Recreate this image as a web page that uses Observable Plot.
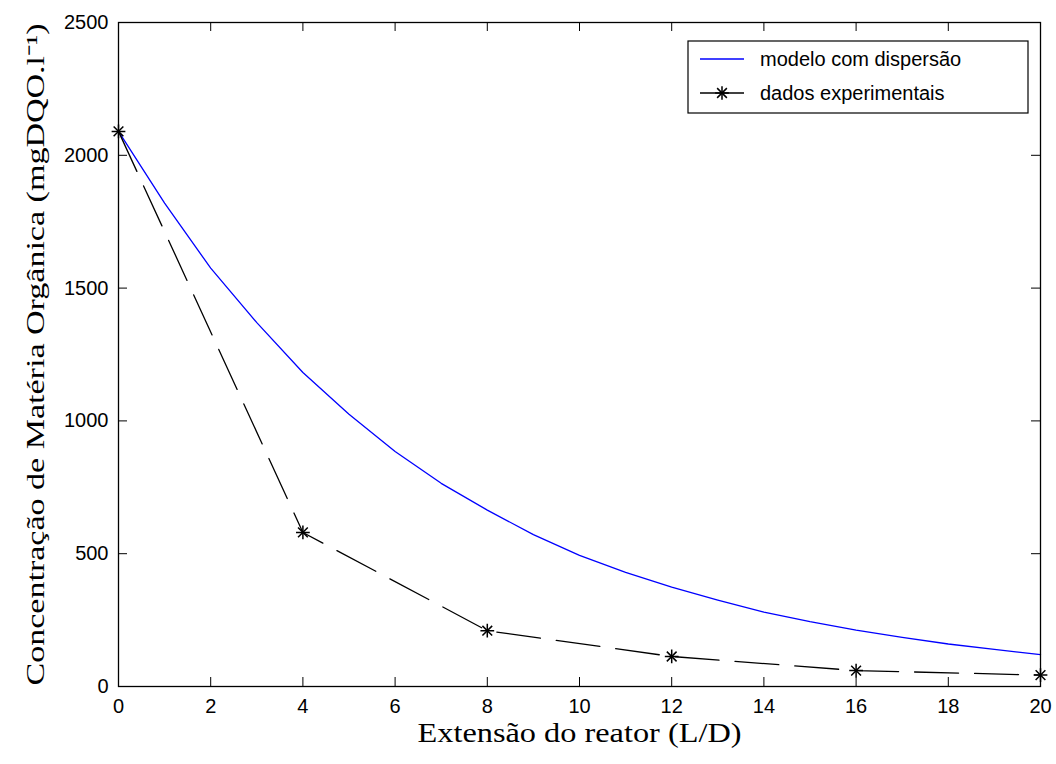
<!DOCTYPE html>
<html><head><meta charset="utf-8">
<script src="https://cdn.jsdelivr.net/npm/d3@7"></script>
<script src="https://cdn.jsdelivr.net/npm/@observablehq/plot@0.6"></script>
<style>body{margin:0;background:#fff}</style>
</head><body><div id="chart"></div>
<script>
// Data
const modelX = [0,1,2,3,4,5,6,7,8,9,10,11,12,13,14,15,16,17,18,19,20];
const modelY = [2090,1820,1575,1370,1182,1025,885,765,664,572,494,430,374,325,280,244,212,185,160,140,120];
const expX = [0,4,8,12,16,20];
const expY = [2090,580,210,113,60,43];
const xTicks = [0,2,4,6,8,10,12,14,16,18,20];
const yTicks = [0,500,1000,1500,2000,2500];
const seriesNames = ["modelo com dispersão","dados experimentais"];
const xTitle = "Extensão do reator (L/D)";
const yTitle = "Concentração de Matéria Orgânica (mgDQO.l⁻¹)";

const model = modelX.map((x,i)=>({x, y:modelY[i]}));
const exp = expX.map((x,i)=>({x, y:expY[i]}));

const W=1056, H=764, mL=118, mR=16, mT=22, mB=78;
const fw = W-mL-mR, fh = H-mT-mB, tk = 9;
const sans = "'Liberation Sans', Arial, sans-serif";
const serif = "'Liberation Serif', 'Times New Roman', serif";

const plot = Plot.plot({
  width:W, height:H, marginLeft:mL, marginRight:mR, marginTop:mT, marginBottom:mB,
  x:{domain:[0,20]}, y:{domain:[0,2500]},
  style:{fontFamily:sans, fontSize:"20px", background:"white", color:"black"},
  marks:[
    Plot.axisX(xTicks,{anchor:"bottom", tickSize:0, tickPadding:12, label:null, fontSize:20, tickFormat:d=>String(d)}),
    Plot.axisY(yTicks,{anchor:"left", tickSize:0, tickPadding:10, label:null, fontSize:20, tickFormat:d=>String(d)}),
    Plot.tickX(xTicks,{x:d=>d, insetTop:fh-tk, stroke:"black"}),
    Plot.tickX(xTicks,{x:d=>d, insetBottom:fh-tk, stroke:"black"}),
    Plot.tickY(yTicks,{y:d=>d, insetRight:fw-tk, stroke:"black"}),
    Plot.tickY(yTicks,{y:d=>d, insetLeft:fw-tk, stroke:"black"}),
    Plot.line(model,{x:"x", y:"y", stroke:"#0000ff", strokeWidth:1.3}),
    Plot.line(exp,{x:"x", y:"y", stroke:"black", strokeWidth:1.3, strokeDasharray:"44,16"}),
    Plot.dot(exp,{x:"x", y:"y", symbol:"plus", r:4.5, stroke:"black", strokeWidth:1.5}),
    Plot.dot(exp,{x:"x", y:"y", symbol:"times", r:4.5, stroke:"black", strokeWidth:1.5}),
    Plot.frame({stroke:"black", strokeWidth:1.3}),
    Plot.text([xTitle],{text:d=>d, frameAnchor:"bottom", dy:55, fontFamily:serif, fontSize:27, fill:"black"}),
    Plot.text([yTitle],{text:d=>d, frameAnchor:"left", textAnchor:"middle", dx:-83, rotate:-90, fontFamily:serif, fontSize:25, fill:"black"})
  ]
});
document.getElementById("chart").appendChild(plot);

const svg = d3.select(plot);
// stretch the titles to the reference widths
svg.selectAll("text").filter(function(){ return this.textContent === xTitle; })
  .attr("textLength", 324).attr("lengthAdjust","spacingAndGlyphs");
svg.selectAll("text").filter(function(){ return this.textContent === yTitle; })
  .attr("textLength", 662).attr("lengthAdjust","spacingAndGlyphs");

// Legend box inside the plot
const lg = svg.append("g").attr("text-anchor","start");
lg.append("rect").attr("x",688).attr("y",41).attr("width",340).attr("height",72)
  .attr("fill","white").attr("stroke","black").attr("stroke-width",1.2);
lg.append("line").attr("x1",700).attr("x2",744).attr("y1",59).attr("y2",59).attr("stroke","#0000ff").attr("stroke-width",1.3);
lg.append("line").attr("x1",700).attr("x2",744).attr("y1",93).attr("y2",93).attr("stroke","black").attr("stroke-width",1.3);
lg.append("path").attr("d",d3.symbol(d3.symbolPlus, Math.PI*4.5*4.5)()).attr("transform","translate(722,93)").attr("stroke","black").attr("stroke-width",1.5).attr("fill","none");
lg.append("path").attr("d",d3.symbol(d3.symbolTimes, Math.PI*4.5*4.5)()).attr("transform","translate(722,93)").attr("stroke","black").attr("stroke-width",1.5).attr("fill","none");
seriesNames.forEach((s,i)=>{
  lg.append("text").attr("x",760).attr("y",59+34*i).attr("dy","0.35em")
    .attr("font-family",sans).attr("font-size",20).attr("fill","black").text(s);
});
</script>
</body></html>
